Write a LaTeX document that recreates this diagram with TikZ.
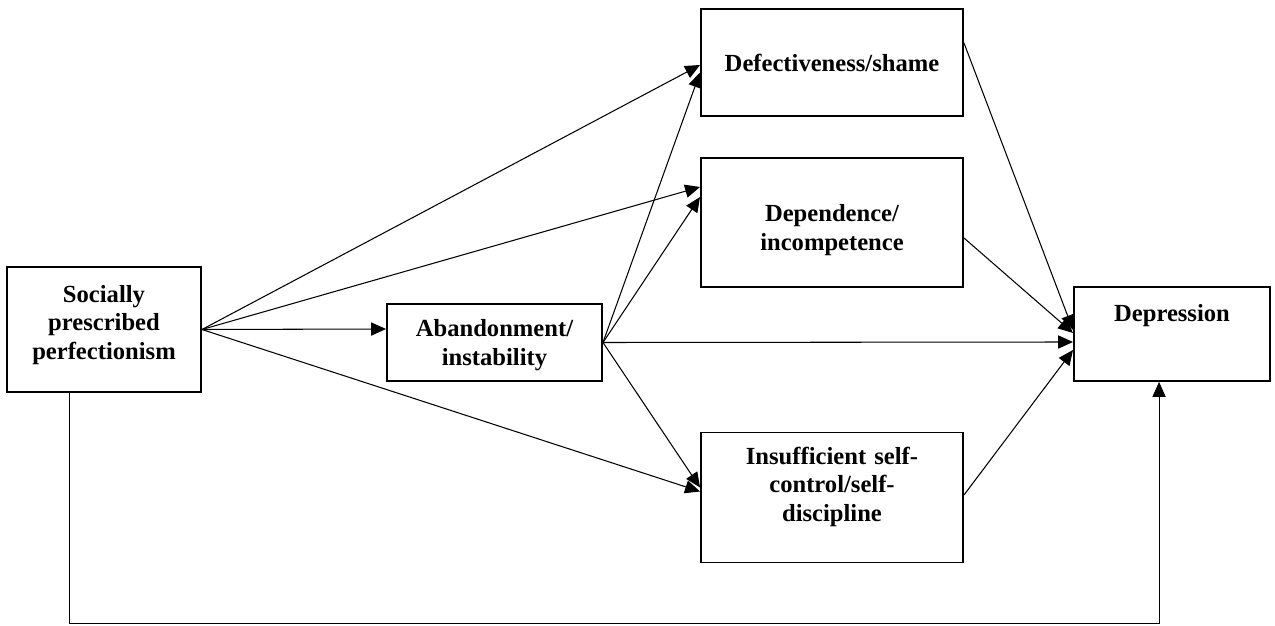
\documentclass[tikz,border=0pt]{standalone}
\usepackage{fontspec}
\setmainfont{Liberation Serif}
\usetikzlibrary{arrows.meta}

\begin{document}
\begin{tikzpicture}[
    box/.style={draw,line width=1.1pt,align=center,inner ysep=0pt,
      font=\fontsize{14}{16.4}\selectfont\bfseries},
    wide/.style={box,text width=4.8cm,minimum width=5.24cm},
    link/.style={-{Triangle[length=8.5pt,width=7.5pt]},line width=0.6pt}]
  \useasboundingbox (0,0) rectangle (25.5,12.5);

    \node[box,text width=3.4cm,minimum width=3.88cm,text height=19.8pt,text depth=51pt] (1) at (2.08,5.91) {Socially\\prescribed\\perfectionism};
    \node[box,text width=3.9cm,minimum width=4.3cm,text height=18.7pt,text depth=25pt] (2) at (9.89,5.65) {Abandonment/\\instability};
    \node[wide,text height=35.7pt,text depth=25pt] (3) at (16.64,11.25) {Defectiveness/shame};
    \node[wide,text height=36.3pt,text depth=36.9pt] (4) at (16.64,8.05) {Dependence/\\incompetence};
    \node[wide,text height=18pt,text depth=56pt] (5) at (16.64,2.55) {Insufficient self-\\control/self-\\discipline};
    \node[box,text width=3.5cm,minimum width=3.92cm,text height=19.5pt,text depth=34pt] (6) at (23.44,5.82) {Depression};
    \coordinate (7) at (12,0.03);

    \path[link]
    (1.east) edge ([yshift=-0.05cm]3.west)
    (1.east) edge ([yshift=0.71cm]4.west)
    (1.east) edge ([yshift=0.27cm]2.west)
    (1.east) edge ([yshift=0.12cm]5.west)
    (2.east) edge ([yshift=-0.2cm]3.west)
    (2.east) edge ([yshift=0.51cm]4.west)
    (2.east) edge ([yshift=-0.16cm]6.west)
    (2.east) edge ([yshift=0.2cm]5.west)
    ([yshift=0.39cm]3.east) edge ([yshift=0.08cm]6.west)
    ([yshift=-0.31cm]4.east) edge ([yshift=0.02cm]6.west)
    ([yshift=0.05cm]5.east) edge ([yshift=-0.32cm]6.west)
    ;
    \draw[link,line width=0.5pt] ([xshift=1.26cm]1.south west) |- (7) -| ([xshift=1.72cm]6.south west);
  \end{tikzpicture}
\end{document}
